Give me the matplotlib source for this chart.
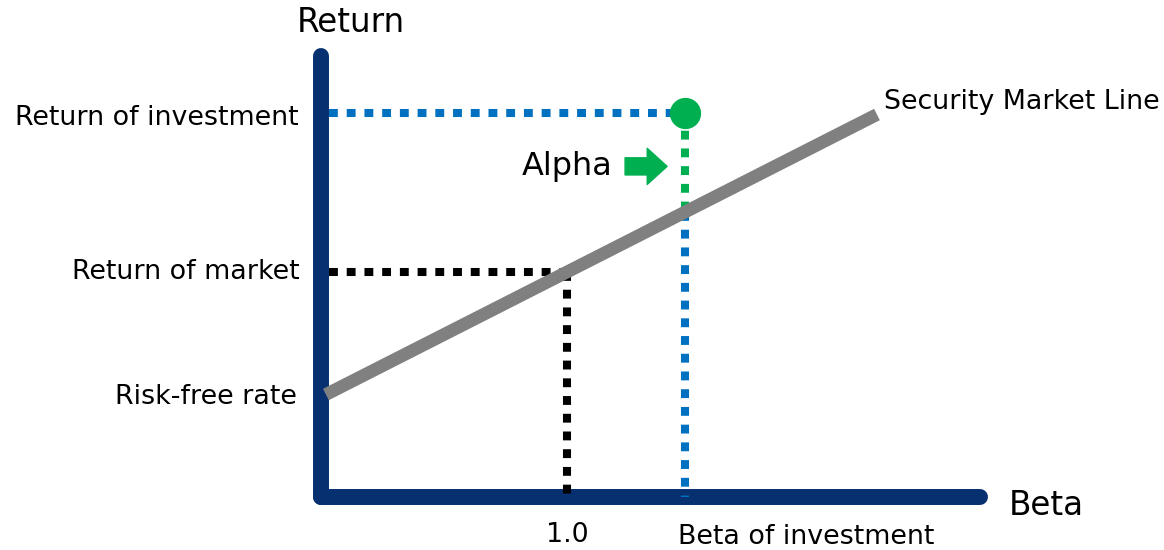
import matplotlib
matplotlib.use("Agg")
import matplotlib.pyplot as plt
import numpy as np

# ---- data ----
risk_free = 4.0          # return of risk-free asset
return_market = 9.0      # return of the market (beta = 1)
beta_market = 1.0
beta_investment = 1.48
return_investment = 15.35
sml_beta_range = [0.02, 2.26]
tick_labels = ["1.0", "Beta of investment"]
y_labels = ["Risk-free rate", "Return of market", "Return of investment"]

NAVY = "#06306f"
BLUE = "#0070c0"
GREEN = "#00b050"
GRAY = "#808080"
FONT = ["DejaVu Sans"]

W, H = 1164, 550
fig = plt.figure(figsize=(W / 100, H / 100), dpi=100)
ax = fig.add_axes([0, 0, 1, 1])
ax.set_axis_off()
# pixel mapping: beta 0 -> x=321, 246 px per beta; return 0 -> y=497, 25 px per unit
x0, sx = 321, 246.0
y0, sy = 497, 25.0
ax.set_xlim(-x0 / sx, (W - x0) / sx)
ax.set_ylim(-(H - y0) / sy, y0 / sy)

def sml(b):
    return risk_free + b * (return_market - risk_free)

y_top = (497 - 56) / sy
x_end = (980 - 321) / sx

# axes lines
ax.plot([0, 0], [0, y_top], color=NAVY, lw=11.5, solid_capstyle="round", zorder=2)
ax.plot([0, x_end], [0, 0], color=NAVY, lw=11.5, solid_capstyle="round", zorder=2)

dot = dict(lw=5.8, linestyle=(0, (1.1, 1.1)), dash_capstyle="butt", zorder=3)
x_start = 8 / sx

# market dotted lines
ax.plot([x_start, beta_market], [return_market] * 2, color="black", **dot)
ax.plot([beta_market] * 2, [return_market, 0], color="black", **dot)

# investment dotted lines
ax.plot([x_start, beta_investment], [return_investment] * 2, color=BLUE, **dot)
sml_at_inv = sml(beta_investment)
ax.plot([beta_investment] * 2, [sml_at_inv, 0], color=BLUE, **dot)
ax.plot([beta_investment] * 2, [return_investment, sml_at_inv], color=GREEN, **dot)

# security market line
bb = np.array(sml_beta_range)
ax.plot(bb, sml(bb), color=GRAY, lw=9.2, solid_capstyle="butt", zorder=4)

# investment point
ax.plot([beta_investment], [return_investment], "o", color=GREEN, ms=21.5, zorder=5)

# alpha arrow
alpha_y = (return_investment + sml_at_inv) / 2 - 0.15
ax.annotate("", xy=(beta_investment - 18 / sx, alpha_y),
            xytext=(beta_investment - 60 / sx, alpha_y),
            arrowprops=dict(arrowstyle="simple,head_length=1.1,head_width=2.0,tail_width=0.95",
                            color=GREEN, shrinkA=0, shrinkB=0, mutation_scale=13,
                            joinstyle="round"), zorder=5)
ax.text(beta_investment - 73 / sx, alpha_y, "Alpha", ha="right", va="center",
        fontsize=23, family=FONT, color="black")

# labels
lab = dict(fontsize=19.4, family=FONT, color="black")
ax.text(-24 / sx, risk_free, y_labels[0], ha="right", va="center", **lab)
ax.text(-21 / sx, return_market, y_labels[1], ha="right", va="center", **lab)
ax.text(-22 / sx, return_investment - 0.2, y_labels[2], ha="right", va="center", **lab)
ax.text(beta_market, -38 / sy, tick_labels[0], ha="center", va="center", **lab)
ax.text(beta_investment - 7 / sx, -40 / sy, tick_labels[1], ha="left", va="center", **lab)
ax.text(sml_beta_range[1] + 7 / sx, sml(sml_beta_range[1]) + 0.5, "Security Market Line",
        ha="left", va="center", **lab)

ax.text(30 / sx, (497 - 23) / sy, "Return", ha="center", va="center", fontsize=23.5, family=FONT)
ax.text(x_end + 66 / sx, -0.35, "Beta", ha="center", va="center", fontsize=23.5, family=FONT)

fig.savefig("out.png", dpi=100)
